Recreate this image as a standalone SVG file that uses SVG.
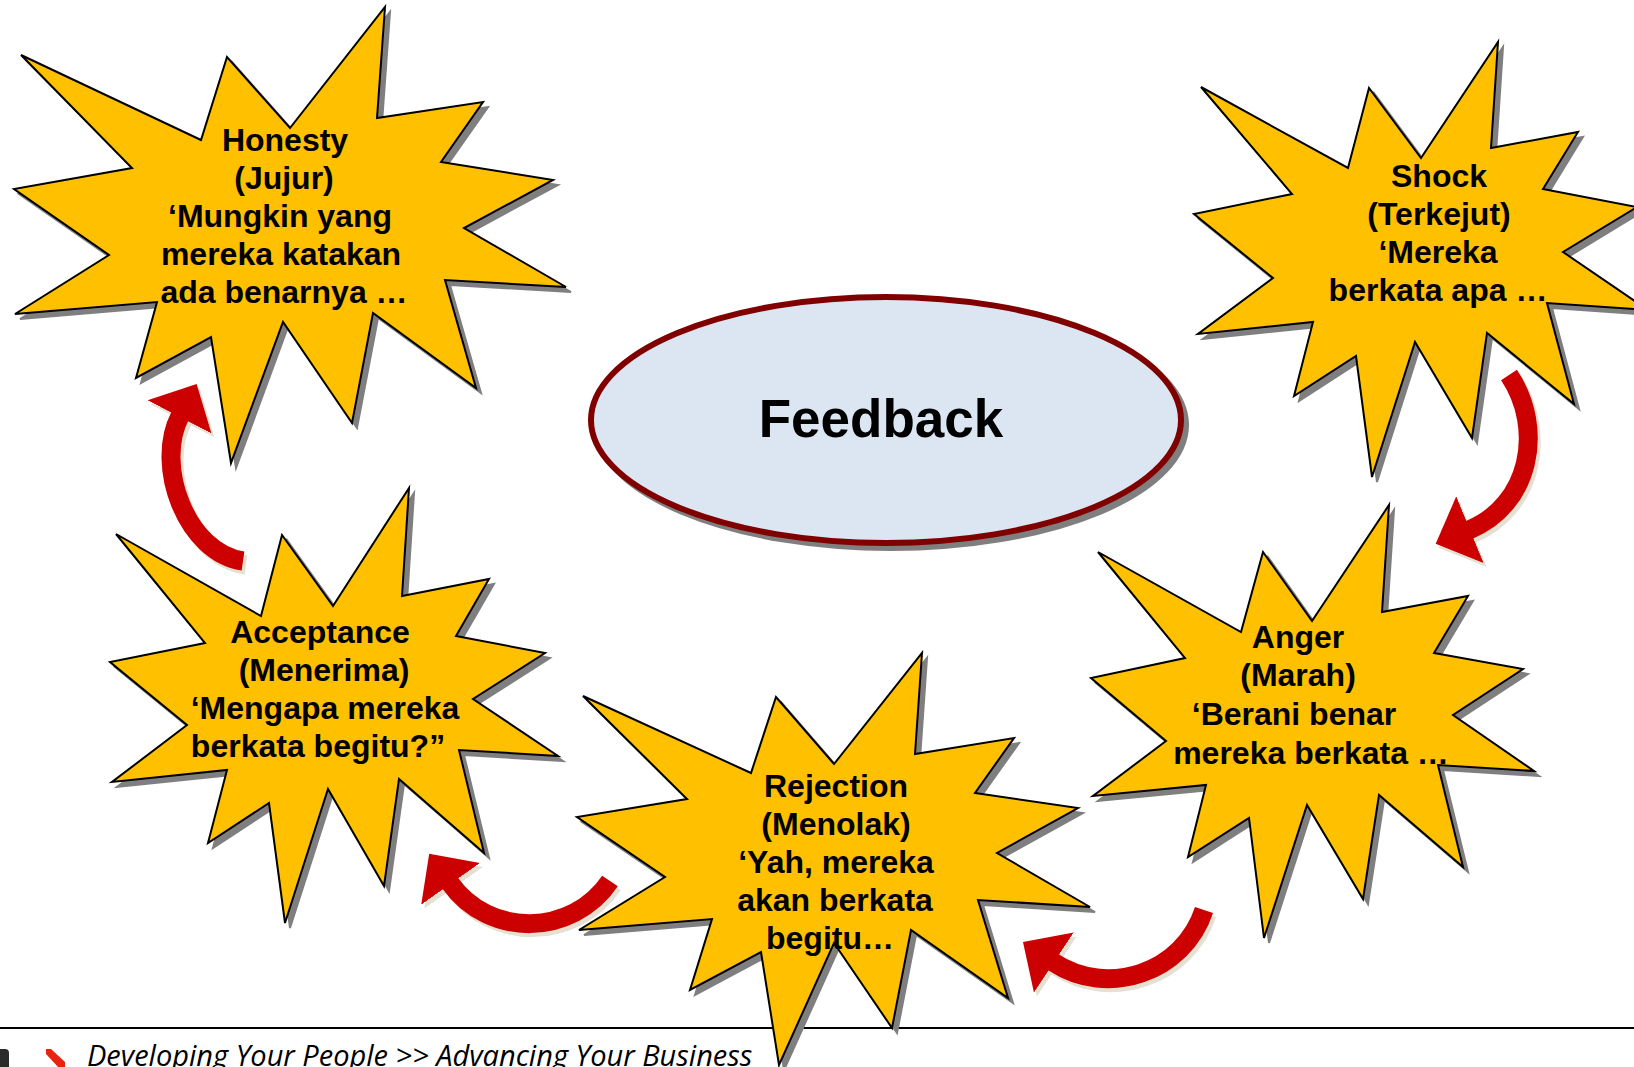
<svg xmlns="http://www.w3.org/2000/svg" xmlns:xlink="http://www.w3.org/1999/xlink" width="1634" height="1067" viewBox="0 0 1634 1067">
  <style>
    .star { fill: #FFC000; stroke: #000000; stroke-width: 2; stroke-linejoin: miter; }
    .star-shadow { fill: #7F7F7F; stroke: #7F7F7F; stroke-width: 2; }
    .label { font-family: "Liberation Sans", Arial, sans-serif; font-weight: bold; font-size: 32px; fill: #000000; text-anchor: middle; }
    .title { font-family: "Liberation Sans", Arial, sans-serif; font-weight: bold; font-size: 53px; fill: #000000; text-anchor: middle; }
    .arrow { fill: none; stroke: #CC0000; stroke-width: 19; stroke-linecap: butt; marker-end: url(#head); }
    .arrow-shadow { fill: none; stroke: #E4E1D3; stroke-width: 19; stroke-linecap: butt; marker-end: url(#head-shadow); }
    .footer { font-family: "Open Sans", "Liberation Sans", sans-serif; font-style: italic; font-size: 29px; fill: #000000; }
  </style>
  <defs>
    <marker id="head" viewBox="0 -38 40 76" refX="1" refY="0" markerWidth="40" markerHeight="76" markerUnits="userSpaceOnUse" orient="auto">
      <path d="M0,-36 L37,0 L0,36 Z" fill="#CC0000"/>
    </marker>
    <marker id="head-shadow" viewBox="0 -38 40 76" refX="1" refY="0" markerWidth="40" markerHeight="76" markerUnits="userSpaceOnUse" orient="auto">
      <path d="M0,-36 L37,0 L0,36 Z" fill="#E4E1D3"/>
    </marker>
    <polygon id="star-honesty" points="21,55 201,140 227,57 290,128 385,7 377,118 483,102 441,162 553,180 464,228 566,287 445,280 476,388 373,313 352,423 283,322 231,463 211,337 136,378 157,302 15,314 109,255 14,189 132,168"/>
    <polygon id="star-shock" points="1201,87 1348,168 1369,88 1421,158 1498,42 1491,148 1578,132 1543,189 1637,207 1563,252 1648,310 1547,303 1574,404 1487,333 1472,438 1415,342 1372,477 1356,356 1294,396 1313,322 1198,334 1273,278 1194,214 1292,194"/>
    <polygon id="star-anger" points="1098,552 1241,632 1263,552 1312,621 1389,505 1382,612 1468,596 1434,653 1523,669 1453,715 1534,771 1438,765 1463,867 1379,795 1363,899 1307,805 1264,938 1249,818 1188,857 1206,785 1093,796 1166,741 1091,678 1185,658"/>
    <polygon id="star-rejection" points="583,696 751,773 776,697 834,764 922,653 915,754 1014,738 975,793 1078,808 997,853 1090,907 978,900 1008,998 911,930 892,1028 834,943 779,1065 761,952 690,990 712,919 579,930 665,877 577,817 687,799"/>
    <polygon id="star-acceptance" points="116,534 261,616 282,535 333,606 409,488 402,596 489,579 456,636 545,653 473,699 558,756 459,750 484,853 399,779 384,886 328,789 285,923 269,803 208,843 227,770 112,782 187,725 110,662 205,643"/>
  </defs>

  <rect x="0" y="0" width="1634" height="1067" fill="#FFFFFF"/>

  <!-- footer band -->
  <g id="footer">
    <line x1="0" y1="1028" x2="1634" y2="1028" stroke="#000000" stroke-width="2"/>
    <path d="M0,1049 L5,1049 Q9,1049 9,1053 L9,1067 L0,1067 Z" fill="#2B2B2B"/>
    <polygon points="46,1049 51,1049 65,1062 65,1067 58,1067 46,1054" fill="#E8230E"/>
    <text class="footer" x="87" y="1066">Developing Your People &gt;&gt; Advancing Your Business</text>
  </g>

  <!-- centre node -->
  <g id="feedback">
    <ellipse cx="891" cy="425" rx="295" ry="123" fill="#7F7F7F" stroke="#7F7F7F" stroke-width="6"/>
    <ellipse cx="886" cy="420" rx="295" ry="123" fill="#DCE6F2" stroke="#800000" stroke-width="6"/>
    <text class="title" x="881" y="437">Feedback</text>
  </g>

  <!-- curved arrows between the stages -->
  <g id="connectors">
    <g transform="translate(3,4)">
      <path class="arrow-shadow" d="M243,561 C187,553 154,466 180,416"/>
      <path class="arrow-shadow" d="M1509,375 C1545,429 1530,505 1469,530"/>
      <path class="arrow-shadow" d="M1204,910 C1183.5,972.7 1107.8,998.3 1053,962"/>
      <path class="arrow-shadow" d="M610,881 C572,937 489,938 450,883"/>
    </g>
    <path id="acceptance-to-honesty" class="arrow" d="M243,561 C187,553 154,466 180,416"/>
    <path id="shock-to-anger" class="arrow" d="M1509,375 C1545,429 1530,505 1469,530"/>
    <path id="anger-to-rejection" class="arrow" d="M1204,910 C1183.5,972.7 1107.8,998.3 1053,962"/>
    <path id="rejection-to-acceptance" class="arrow" d="M610,881 C572,937 489,938 450,883"/>
  </g>

  <!-- stage stars -->
  <g id="honesty">
    <use xlink:href="#star-honesty" class="star-shadow" transform="translate(5,5)"/>
    <use xlink:href="#star-honesty" class="star"/>
    <text class="label" x="285" y="151">Honesty</text>
    <text class="label" x="284" y="189">(Jujur)</text>
    <text class="label" x="280" y="227">‘Mungkin yang</text>
    <text class="label" x="281" y="265">mereka katakan</text>
    <text class="label" x="284" y="303">ada benarnya …</text>
  </g>

  <g id="shock">
    <use xlink:href="#star-shock" class="star-shadow" transform="translate(5,5)"/>
    <use xlink:href="#star-shock" class="star"/>
    <text class="label" x="1439" y="187">Shock</text>
    <text class="label" x="1439" y="225">(Terkejut)</text>
    <text class="label" x="1438" y="263">‘Mereka</text>
    <text class="label" x="1438" y="301">berkata apa …</text>
  </g>

  <g id="anger">
    <use xlink:href="#star-anger" class="star-shadow" transform="translate(5,5)"/>
    <use xlink:href="#star-anger" class="star"/>
    <text class="label" x="1298" y="648">Anger</text>
    <text class="label" x="1298" y="686">(Marah)</text>
    <text class="label" x="1294" y="725">‘Berani benar</text>
    <text class="label" x="1311" y="764">mereka berkata …</text>
  </g>

  <g id="rejection">
    <use xlink:href="#star-rejection" class="star-shadow" transform="translate(5,5)"/>
    <use xlink:href="#star-rejection" class="star"/>
    <text class="label" x="836" y="797">Rejection</text>
    <text class="label" x="836" y="835">(Menolak)</text>
    <text class="label" x="836" y="873">‘Yah, mereka</text>
    <text class="label" x="835" y="911">akan berkata</text>
    <text class="label" x="830" y="949">begitu…</text>
  </g>

  <g id="acceptance">
    <use xlink:href="#star-acceptance" class="star-shadow" transform="translate(5,5)"/>
    <use xlink:href="#star-acceptance" class="star"/>
    <text class="label" x="320" y="643">Acceptance</text>
    <text class="label" x="324" y="681">(Menerima)</text>
    <text class="label" x="325" y="719">‘Mengapa mereka</text>
    <text class="label" x="318" y="757">berkata begitu?”</text>
  </g>
</svg>
